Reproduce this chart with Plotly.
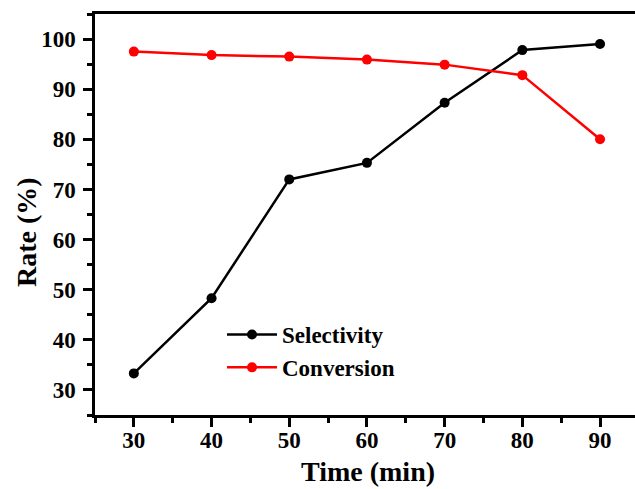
import plotly.graph_objects as go

time_min = [30, 40, 50, 60, 70, 80, 90]
selectivity = [33.3, 48.3, 72.0, 75.3, 87.3, 97.8, 99.0]
conversion = [97.5, 96.8, 96.5, 95.9, 94.9, 92.8, 80.0]
x_ticks = [30, 40, 50, 60, 70, 80, 90]
y_ticks = [30, 40, 50, 60, 70, 80, 90, 100]

FONT = "Liberation Serif"
W, H = 635, 489
L, R, T = 95, 0, 14
PW, PH = W - L - R, 401
B = H - T - PH
PLOT_BOTTOM = 415  # in reference pixels

fig = go.Figure()
fig.add_trace(go.Scatter(x=time_min, y=selectivity, mode="lines+markers", name="Selectivity",
                         line=dict(color="black", width=2.5), marker=dict(color="black", size=10)))
fig.add_trace(go.Scatter(x=time_min, y=conversion, mode="lines+markers", name="Conversion",
                         line=dict(color="red", width=2.5), marker=dict(color="red", size=10)))

fig.update_layout(
    width=W, height=H,
    margin=dict(l=L, r=R, t=T, b=B, autoexpand=False),
    plot_bgcolor="white", paper_bgcolor="white",
    font=dict(family=FONT, color="black", size=20),
    showlegend=True,
    legend=dict(x=(222 - 95) / PW, y=(PLOT_BOTTOM - 313) / PH, xanchor="left", yanchor="top",
                font=dict(family=FONT, size=23, color="black", weight="bold"),
                bgcolor="rgba(0,0,0,0)", itemwidth=50, tracegroupgap=0),
    annotations=[
        dict(text="<b>Time (min)</b>", xref="paper", yref="paper", x=(368 - 95) / PW,
             y=(PLOT_BOTTOM - 471) / PH, xanchor="center", yanchor="middle", showarrow=False,
             font=dict(family=FONT, size=28, color="black")),
        dict(text="<b>Rate (%)</b>", xref="paper", yref="paper", x=(26 - 95) / PW,
             y=(PLOT_BOTTOM - 232) / PH, xanchor="center", yanchor="middle", showarrow=False,
             textangle=-90, font=dict(family=FONT, size=28, color="black")),
    ],
)
fig.update_xaxes(
    range=[25, 94.5], tickvals=x_ticks, ticktext=[str(v) for v in x_ticks], automargin=False,
    showgrid=False, zeroline=False, showline=True, linecolor="black", linewidth=2.5,
    mirror=True, ticks="outside", ticklen=9, tickwidth=2.5, tickcolor="black",
    minor=dict(tickvals=[25, 35, 45, 55, 65, 75, 85], ticks="outside", ticklen=5, tickwidth=2.5, tickcolor="black"),
    tickfont=dict(family=FONT, size=23, weight="bold"), ticklabelstandoff=-6,
)
fig.update_yaxes(
    range=[25, 105], tickvals=y_ticks, ticktext=[str(v) for v in y_ticks], automargin=False,
    showgrid=False, zeroline=False, showline=True, linecolor="black", linewidth=2.5,
    mirror=False, ticks="outside", ticklen=9, tickwidth=2.5, tickcolor="black",
    minor=dict(tickvals=[25, 35, 45, 55, 65, 75, 85, 95, 105], ticks="outside", ticklen=5, tickwidth=2.5, tickcolor="black"),
    tickfont=dict(family=FONT, size=23, weight="bold"), ticklabelstandoff=3,
)

fig.write_html(
    "out.html",
    config={"displayModeBar": False},
    post_script="document.body.style.margin='0';document.documentElement.style.overflow='hidden';",
)
